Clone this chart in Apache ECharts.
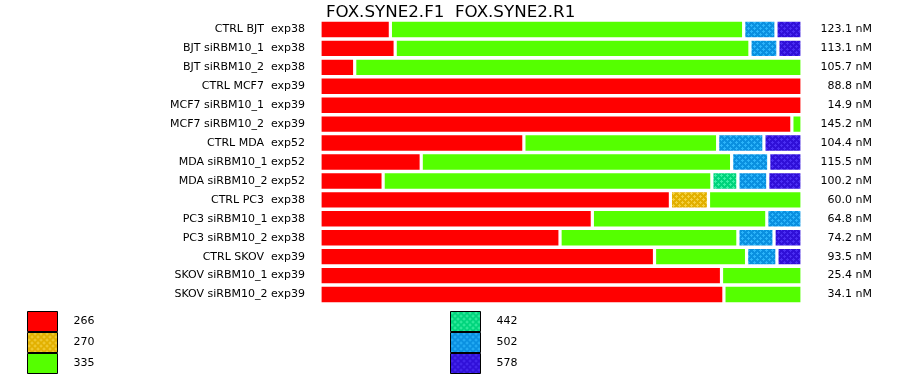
<!DOCTYPE html>
<html><head><meta charset="utf-8">
<script src="https://cdn.jsdelivr.net/npm/echarts@6/dist/echarts.min.js"></script>
<style>html,body{margin:0;padding:0;background:#fff}#c{width:900px;height:375px}</style>
</head><body><div id="c"></div>
<script>
const titleText = 'FOX.SYNE2.F1  FOX.SYNE2.R1';
const categories = ['CTRL BJT  exp38','BJT siRBM10_1  exp38','BJT siRBM10_2  exp38','CTRL MCF7  exp39','MCF7 siRBM10_1  exp39','MCF7 siRBM10_2  exp39','CTRL MDA  exp52','MDA siRBM10_1 exp52','MDA siRBM10_2 exp52','CTRL PC3  exp38','PC3 siRBM10_1 exp38','PC3 siRBM10_2 exp38','CTRL SKOV  exp39','SKOV siRBM10_1 exp39','SKOV siRBM10_2 exp39'];
const concLabels = ['123.1 nM','113.1 nM','105.7 nM','88.8 nM','14.9 nM','145.2 nM','104.4 nM','115.5 nM','100.2 nM','60.0 nM','64.8 nM','74.2 nM','93.5 nM','25.4 nM','34.1 nM'];
const seriesNames = ['266','270','335','442','502','578'];
const v266 = [14.6,15.6,7.2,100,100,97.9,42.3,21.0,13.1,72.7,56.5,49.8,69.4,83.3,83.8];
const v270 = [0,0,0,0,0,0,0,0,0,7.9,0,0,0,0,0];
const v335 = [73.3,73.6,92.8,0,0,2.1,40.2,64.4,68.2,19.4,36.2,36.9,19.1,16.7,16.2];
const v442 = [0,0,0,0,0,0,0,0,5.4,0,0,0,0,0,0];
const v502 = [6.7,5.8,0,0,0,0,9.6,7.7,6.2,0,7.3,7.5,6.3,0,0];
const v578 = [5.4,5.0,0,0,0,0,7.9,6.9,7.1,0,0,5.8,5.2,0,0];
const values = [v266,v270,v335,v442,v502,v578];

function pat(base, dot){
  const c = document.createElement('canvas'); c.width = 6; c.height = 6;
  const g = c.getContext('2d');
  g.fillStyle = base; g.fillRect(0,0,6,6);
  g.fillStyle = dot;
  [[1,1],[4,4]].forEach(([x,y])=>{
    g.fillRect(x-1,y,3,1); g.fillRect(x,y-1,1,3);
  });
  return {image:c, repeat:'repeat'};
}
const fills = ['#ff0000', pat('#e2b000','#f4d040'), '#55ff00', pat('#00d47c','#3cf0a4'), pat('#0a90e0','#2cb4fa'), pat('#3010d8','#4a2ef2')];

const FONT = 'DejaVu Sans';
const chart = echarts.init(document.getElementById('c'), null, {renderer:'canvas'});
chart.setOption({
  animation:false,
  backgroundColor:'#fff',
  title:{text:titleText, left:321, top:-1, textStyle:{fontFamily:FONT, fontSize:16.7, fontWeight:'normal', color:'#000'}},
  grid:{left:320, right:98, top:20, height:284, containLabel:false},
  xAxis:{type:'value', min:0, max:100, show:false},
  yAxis:[
    {type:'category', data:categories, inverse:true, axisLine:{show:false}, axisTick:{show:false},
     axisLabel:{margin:15, fontFamily:FONT, fontSize:11, color:'#000'}},
    {type:'category', data:concLabels, inverse:true, position:'right', axisLine:{show:false}, axisTick:{show:false},
     axisLabel:{margin:70, align:'right', fontFamily:FONT, fontSize:11, color:'#000'}}
  ],
  legend:[
    {data:seriesNames.slice(0,3), orient:'vertical', left:27, top:311, padding:0, itemGap:0, itemWidth:30, itemHeight:20,
     icon:'rect', itemStyle:{borderColor:'#000', borderWidth:1}, selectedMode:false,
     textStyle:{fontFamily:FONT, fontSize:11, color:'#000', padding:[0,0,0,11]}},
    {data:seriesNames.slice(3), orient:'vertical', left:450, top:311, padding:0, itemGap:0, itemWidth:30, itemHeight:20,
     icon:'rect', itemStyle:{borderColor:'#000', borderWidth:1}, selectedMode:false,
     textStyle:{fontFamily:FONT, fontSize:11, color:'#000', padding:[0,0,0,11]}}
  ],
  series: seriesNames.map((n,i)=>({
    name:n, type:'bar', stack:'all', yAxisIndex:0, barWidth:18.6,
    data: values[i].map(v=> v===0 ? '-' : v),
    itemStyle:{color:fills[i], borderColor:'#fff', borderWidth:1.6}
  }))
});
</script></body></html>
